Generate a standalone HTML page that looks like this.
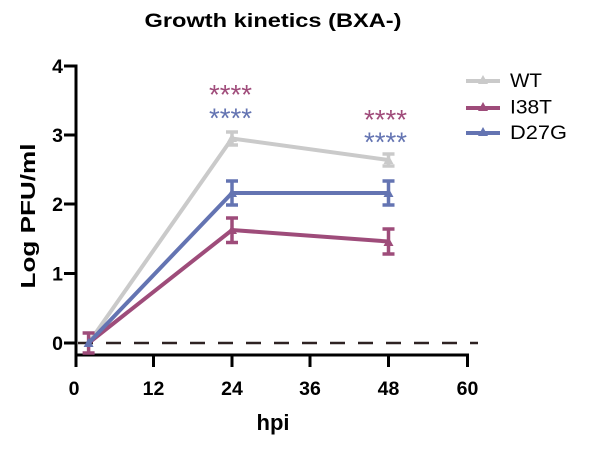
<!DOCTYPE html>
<html><head><meta charset="utf-8"><style>
html,body{margin:0;padding:0;background:#fff;}
svg{display:block;}
text{font-family:"Liberation Sans",Arial,sans-serif;}
</style></head><body>
<svg width="615" height="449" viewBox="0 0 615 449" xmlns="http://www.w3.org/2000/svg">
<rect width="615" height="449" fill="#fff"/>
<!-- title -->
<text x="273" y="27" font-size="19.5" font-weight="bold" text-anchor="middle" textLength="257" lengthAdjust="spacingAndGlyphs" fill="#000">Growth kinetics (BXA-)</text>
<!-- y label -->
<text transform="translate(35,216) rotate(-90)" font-size="20.5" font-weight="bold" text-anchor="middle" textLength="145" lengthAdjust="spacingAndGlyphs" fill="#000">Log PFU/ml</text>
<!-- x label -->
<text x="273" y="430" font-size="22" font-weight="bold" text-anchor="middle" fill="#000">hpi</text>

<!-- dashed zero line -->
<line x1="78" y1="343" x2="478" y2="343" stroke="#2e2222" stroke-width="2.5" stroke-dasharray="15,13"/>

<!-- axes -->
<g stroke="#000" stroke-width="3" fill="none">
<line x1="76" y1="64.5" x2="76" y2="367"/>
<line x1="74.5" y1="355" x2="469" y2="355"/>
<line x1="64" y1="66" x2="76" y2="66"/>
<line x1="64" y1="135" x2="76" y2="135"/>
<line x1="64" y1="204" x2="76" y2="204"/>
<line x1="64" y1="273.5" x2="76" y2="273.5"/>
<line x1="64" y1="343" x2="76" y2="343"/>
<line x1="153.5" y1="355" x2="153.5" y2="367"/>
<line x1="232" y1="355" x2="232" y2="367"/>
<line x1="310" y1="355" x2="310" y2="367"/>
<line x1="388.5" y1="355" x2="388.5" y2="367"/>
<line x1="467.5" y1="355" x2="467.5" y2="367"/>
</g>
<!-- y tick labels -->
<g font-size="19.5" font-weight="bold" text-anchor="end" fill="#000">
<text x="63" y="73">4</text>
<text x="63" y="142">3</text>
<text x="63" y="211">2</text>
<text x="63" y="280.5">1</text>
<text x="63" y="350">0</text>
</g>
<!-- x tick labels -->
<g font-size="19.5" font-weight="bold" text-anchor="middle" fill="#000">
<text x="74" y="395">0</text>
<text x="153.5" y="395">12</text>
<text x="232" y="395">24</text>
<text x="310" y="395">36</text>
<text x="388.5" y="395">48</text>
<text x="467.5" y="395">60</text>
</g>

<!-- WT -->
<g stroke="#cacaca" fill="#cacaca">
<polyline points="88.6,343 232,138.5 388.5,160" fill="none" stroke-width="4"/>
<g stroke-width="3.5" fill="none">
<line x1="232" y1="132" x2="232" y2="145"/><line x1="226" y1="132" x2="238" y2="132"/><line x1="226" y1="145" x2="238" y2="145"/>
<line x1="388.5" y1="154" x2="388.5" y2="166"/><line x1="382.5" y1="154" x2="394.5" y2="154"/><line x1="382.5" y1="166" x2="394.5" y2="166"/>
</g>
<polygon points="232,133 227,142 237,142" stroke="none"/>
<polygon points="388.5,155 383.5,164 393.5,164" stroke="none"/>
</g>

<!-- I38T -->
<g stroke="#9e4c7a" fill="#9e4c7a">
<polyline points="88.6,343 232,230 388.5,241.5" fill="none" stroke-width="4"/>
<g stroke-width="3.5" fill="none">
<line x1="88.6" y1="333" x2="88.6" y2="353"/><line x1="82.6" y1="333" x2="94.6" y2="333"/><line x1="82.6" y1="353" x2="94.6" y2="353"/>
<line x1="232" y1="218" x2="232" y2="242.5"/><line x1="226" y1="218" x2="238" y2="218"/><line x1="226" y1="242.5" x2="238" y2="242.5"/>
<line x1="388.5" y1="229" x2="388.5" y2="254"/><line x1="382.5" y1="229" x2="394.5" y2="229"/><line x1="382.5" y1="254" x2="394.5" y2="254"/>
</g>
<polygon points="232,225 227,234 237,234" stroke="none"/>
<polygon points="388.5,237 383.5,246 393.5,246" stroke="none"/>
</g>

<!-- D27G -->
<g stroke="#6474b2" fill="#6474b2">
<polyline points="88.6,343 232,193 388.5,193" fill="none" stroke-width="4"/>
<g stroke-width="3.5" fill="none">
<line x1="232" y1="181" x2="232" y2="205"/><line x1="226" y1="181" x2="238" y2="181"/><line x1="226" y1="205" x2="238" y2="205"/>
<line x1="388.5" y1="181" x2="388.5" y2="205"/><line x1="382.5" y1="181" x2="394.5" y2="181"/><line x1="382.5" y1="205" x2="394.5" y2="205"/>
</g>
<polygon points="88.6,338 83.6,347 93.6,347" stroke="none"/>
<polygon points="232,188 227,197 237,197" stroke="none"/>
<polygon points="388.5,188 383.5,197 393.5,197" stroke="none"/>
</g>

<!-- significance stars -->
<g font-size="28" text-anchor="start">
<text x="209" y="104" fill="#a04c7b" textLength="43" lengthAdjust="spacingAndGlyphs">****</text>
<text x="209" y="127.5" fill="#6474b2" textLength="43" lengthAdjust="spacingAndGlyphs">****</text>
<text x="364" y="129" fill="#a04c7b" textLength="43" lengthAdjust="spacingAndGlyphs">****</text>
<text x="364" y="151.5" fill="#6474b2" textLength="43" lengthAdjust="spacingAndGlyphs">****</text>
</g>

<!-- legend -->
<g>
<line x1="466" y1="81" x2="500" y2="81" stroke="#cacaca" stroke-width="4"/>
<polygon points="483,75 478,84 488,84" fill="#cacaca"/>
<line x1="466" y1="108" x2="500" y2="108" stroke="#9e4c7a" stroke-width="4"/>
<polygon points="483,102 478,111 488,111" fill="#9e4c7a"/>
<line x1="466" y1="133" x2="500" y2="133" stroke="#6474b2" stroke-width="4"/>
<polygon points="483,127 478,136 488,136" fill="#6474b2"/>
<g font-size="19.5" fill="#000">
<text x="510" y="87" textLength="32" lengthAdjust="spacingAndGlyphs">WT</text>
<text x="510" y="113.5" textLength="42" lengthAdjust="spacingAndGlyphs">I38T</text>
<text x="510" y="139" textLength="57" lengthAdjust="spacingAndGlyphs">D27G</text>
</g>
</g>
</svg>
</body></html>
